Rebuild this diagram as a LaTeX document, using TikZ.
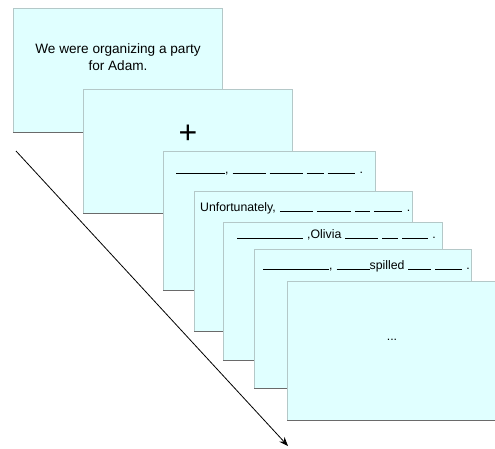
\documentclass[tikz,border=0pt]{standalone}
\usepackage{fontspec}
\setmainfont{Liberation Sans}
\usetikzlibrary{arrows.meta}
\definecolor{cardfill}{HTML}{E0FFFF}
\definecolor{cardedge}{HTML}{B4C8C8}
\definecolor{cardshadow}{HTML}{6A6A6A}
\newcommand\blank[1]{\rule[-0.8pt]{#1pt}{0.6pt}}
\newcommand\gap{\hspace{4pt}}
\begin{document}
\begin{tikzpicture}[x=1pt,y=-1pt,
  card/.style={draw=cardedge, fill=cardfill, line width=0.6pt, rectangle, anchor=north west, inner sep=0pt},
  shadowline/.style={draw=cardshadow, line width=1pt},
  smalltxt/.style={inner sep=0pt, anchor=base west, font=\fontsize{12.3}{15}\selectfont},
  bigtxt/.style={inner sep=0pt, align=center, font=\fontsize{13.6}{17}\selectfont},
  timearrow/.style={-{Stealth[length=9pt,width=7pt]}, line width=0.8pt}]
\useasboundingbox (0,0) rectangle (495,448);
% cards
\node[card, minimum width=209pt, minimum height=124pt] (c1) at (13,8) {};
\draw[shadowline] (c1.south west) -- (c1.south east);
\node[bigtxt] (t1) at (118,57.5) {We were organizing a party\\for Adam.};
\node[card, minimum width=209pt, minimum height=124pt] (c2) at (83,89) {};
\draw[shadowline] (c2.south west) -- (c2.south east);
\node[inner sep=0pt, font=\fontsize{32}{32}\selectfont] (t2) at (188,134) {+};
\node[card, minimum width=212pt, minimum height=139pt] (c3) at (163,151) {};
\draw[shadowline] (c3.south west) -- (c3.south east);
\node[smalltxt] (t3) at (176,173) {\blank{49},\gap\blank{33}\gap\blank{33}\gap\blank{17}\gap\blank{27}\hspace{5pt}.};
\node[card, minimum width=218pt, minimum height=140pt] (c4) at (194,191) {};
\draw[shadowline] (c4.south west) -- (c4.south east);
\node[smalltxt] (t4) at (200,211) {Unfortunately,\gap\blank{33}\gap\blank{34}\gap\blank{15}\gap\blank{28}\hspace{5pt}.};
\node[card, minimum width=219pt, minimum height=138pt] (c5) at (223,222) {};
\draw[shadowline] (c5.south west) -- (c5.south east);
\node[smalltxt] (t5) at (237,238) {\blank{66}\gap,Olivia\gap\blank{33}\gap\blank{16}\gap\blank{26}\gap.};
\node[card, minimum width=217pt, minimum height=139pt] (c6) at (254,249) {};
\draw[shadowline] (c6.south west) -- (c6.south east);
\node[smalltxt] (t6) at (263,269) {\blank{66},\gap\blank{33}spilled\gap\blank{23}\gap\blank{27}\gap.};
\node[card, minimum width=220pt, minimum height=139pt] (c7) at (287,281) {};
\draw[shadowline] (c7.south west) -- (c7.south east);
\node[smalltxt, anchor=base] (t7) at (392,340) {...};
% time arrow
\coordinate (as) at (16,151);
\coordinate (ae) at (288,446);
\draw[timearrow] (as) -- (ae);
\end{tikzpicture}
\end{document}
